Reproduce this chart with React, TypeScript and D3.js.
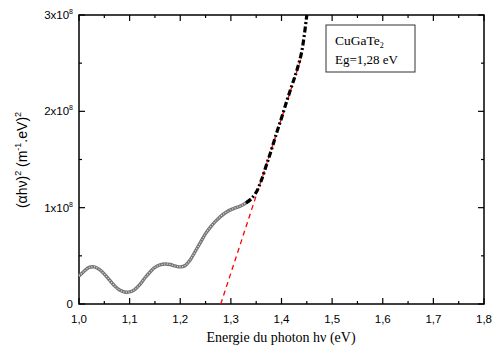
import { useEffect, useRef } from 'react';
import * as d3 from 'd3';

// (energy eV, (alpha h nu)^2 in 1e8 units)
const energy = [1.0, 1.01, 1.02, 1.03, 1.04, 1.05, 1.06, 1.07, 1.08, 1.09, 1.1, 1.11, 1.12, 1.13, 1.14, 1.15, 1.16, 1.17, 1.18, 1.19, 1.2, 1.21, 1.22, 1.23, 1.24, 1.25, 1.26, 1.27, 1.28, 1.29, 1.3, 1.31, 1.32, 1.33, 1.34, 1.35, 1.36, 1.37, 1.38, 1.39, 1.4, 1.41, 1.42, 1.43, 1.44, 1.45];
const absorb = [0.29, 0.34, 0.38, 0.385, 0.36, 0.31, 0.25, 0.19, 0.145, 0.125, 0.125, 0.15, 0.2, 0.27, 0.33, 0.38, 0.405, 0.415, 0.41, 0.395, 0.385, 0.4, 0.46, 0.55, 0.64, 0.73, 0.8, 0.86, 0.91, 0.95, 0.98, 1.0, 1.02, 1.05, 1.09, 1.16, 1.28, 1.44, 1.6, 1.77, 1.93, 2.1, 2.26, 2.42, 2.62, 3.0];
const fitEnergy = [1.28, 1.44];
const fitValue = [0, 2.57];
const xTicks = [1.0, 1.1, 1.2, 1.3, 1.4, 1.5, 1.6, 1.7, 1.8];
const yTicks = [0, 1, 2, 3];

export default function App() {
  const ref = useRef<SVGSVGElement>(null);

  useEffect(() => {
    const svg = d3.select(ref.current);
    svg.selectAll('*').remove();
    const L = 79, R = 484, T = 15, B = 304;
    const x = d3.scaleLinear().domain([1.0, 1.8]).range([L, R]);
    const y = d3.scaleLinear().domain([0, 3]).range([B, T]);
    const sans = 'Liberation Sans';
    const serif = 'Liberation Serif';

    const g = svg.append('g');

    // frame
    g.append('rect').attr('x', L).attr('y', T).attr('width', R - L).attr('height', B - T)
      .attr('fill', 'none').attr('stroke', '#000').attr('stroke-width', 1.5);

    const minorX = d3.range(1.05, 1.8, 0.1);
    const minorY = [0.5, 1.5, 2.5];
    const tick = (xs: number[], len: number) => {
      xs.forEach(v => {
        g.append('line').attr('x1', x(v)).attr('x2', x(v)).attr('y1', B).attr('y2', B - len)
          .attr('stroke', '#000').attr('stroke-width', 1.2);
        g.append('line').attr('x1', x(v)).attr('x2', x(v)).attr('y1', T).attr('y2', T + len)
          .attr('stroke', '#000').attr('stroke-width', 1.2);
      });
    };
    tick(xTicks, 6);
    tick(minorX, 3);
    const tickY = (ys: number[], len: number) => {
      ys.forEach(v => {
        g.append('line').attr('y1', y(v)).attr('y2', y(v)).attr('x1', L).attr('x2', L + len)
          .attr('stroke', '#000').attr('stroke-width', 1.2);
        g.append('line').attr('y1', y(v)).attr('y2', y(v)).attr('x1', R).attr('x2', R - len)
          .attr('stroke', '#000').attr('stroke-width', 1.2);
      });
    };
    tickY(yTicks, 6);
    tickY(minorY, 3);

    // tick labels
    xTicks.forEach(v => {
      g.append('text').attr('x', x(v)).attr('y', B + 19).attr('text-anchor', 'middle')
        .style('font-family', sans).attr('font-size', 11.5).text(v.toFixed(1).replace('.', ','));
    });
    yTicks.forEach(v => {
      const t = g.append('text').attr('x', L - 6).attr('y', y(v) + 4).attr('text-anchor', 'end')
        .style('font-family', sans).attr('font-size', 11.5);
      if (v === 0) t.text('0');
      else {
        t.append('tspan').text(`${v}x10`);
        t.append('tspan').attr('dy', -5).attr('font-size', 7).text('8');
      }
    });

    // fit line
    const line = d3.line<[number, number]>().x(d => x(d[0])).y(d => y(d[1]));
    g.append('path').datum(fitEnergy.map((e, i) => [e, fitValue[i]] as [number, number]))
      .attr('d', line).attr('fill', 'none').attr('stroke', '#ff0000')
      .attr('stroke-width', 1.3).attr('stroke-dasharray', '5,4');

    // data curve
    const pts = energy.map((e, i) => [e, absorb[i]] as [number, number]);
    const curve = d3.line<[number, number]>().x(d => x(d[0])).y(d => y(d[1])).curve(d3.curveCatmullRom);
    const low = pts.filter(d => d[0] <= 1.34);
    g.append('path').datum(low).attr('d', curve)
      .attr('fill', 'none').attr('stroke', '#777').attr('stroke-width', 3.4);
    g.append('path').datum(low).attr('d', curve)
      .attr('fill', 'none').attr('stroke', '#eee').attr('stroke-width', 1.1)
      .attr('stroke-dasharray', '1,1.6');
    g.append('path').datum(pts.filter(d => d[0] >= 1.33)).attr('d', curve)
      .attr('fill', 'none').attr('stroke', '#000').attr('stroke-width', 3.2)
      .attr('stroke-dasharray', '6,2.5,2,2.5');

    // legend box
    g.append('rect').attr('x', 326).attr('y', 25).attr('width', 89).attr('height', 47)
      .attr('fill', '#fff').attr('stroke', '#333').attr('stroke-width', 1);
    const t1 = g.append('text').attr('x', 335).attr('y', 45).style('font-family', serif).attr('font-size', 13.5);
    t1.append('tspan').text('CuGaTe');
    t1.append('tspan').attr('dy', 3).attr('font-size', 8).text('2');
    g.append('text').attr('x', 335).attr('y', 64).style('font-family', serif).attr('font-size', 13)
      .text('Eg=1,28 eV');

    // axis titles
    g.append('text').attr('x', 281).attr('y', 342).attr('text-anchor', 'middle')
      .style('font-family', serif).attr('font-size', 14).text('Energie du photon hν (eV)');
    const yt = g.append('text').attr('transform', `translate(27,160) rotate(-90)`)
      .attr('text-anchor', 'middle').style('font-family', sans).attr('font-size', 14);
    yt.append('tspan').text('(αhν)');
    yt.append('tspan').attr('dy', -6).attr('font-size', 9).text('2');
    yt.append('tspan').attr('dy', 6).text(' (m');
    yt.append('tspan').attr('dy', -6).attr('font-size', 9).text('-1');
    yt.append('tspan').attr('dy', 6).text('.eV)');
    yt.append('tspan').attr('dy', -6).attr('font-size', 9).text('2');
  }, []);

  return (
    <svg ref={ref} width={496} height={351}
      style={{ position: 'absolute', left: 0, top: 0, background: '#fff' }} />
  );
}
